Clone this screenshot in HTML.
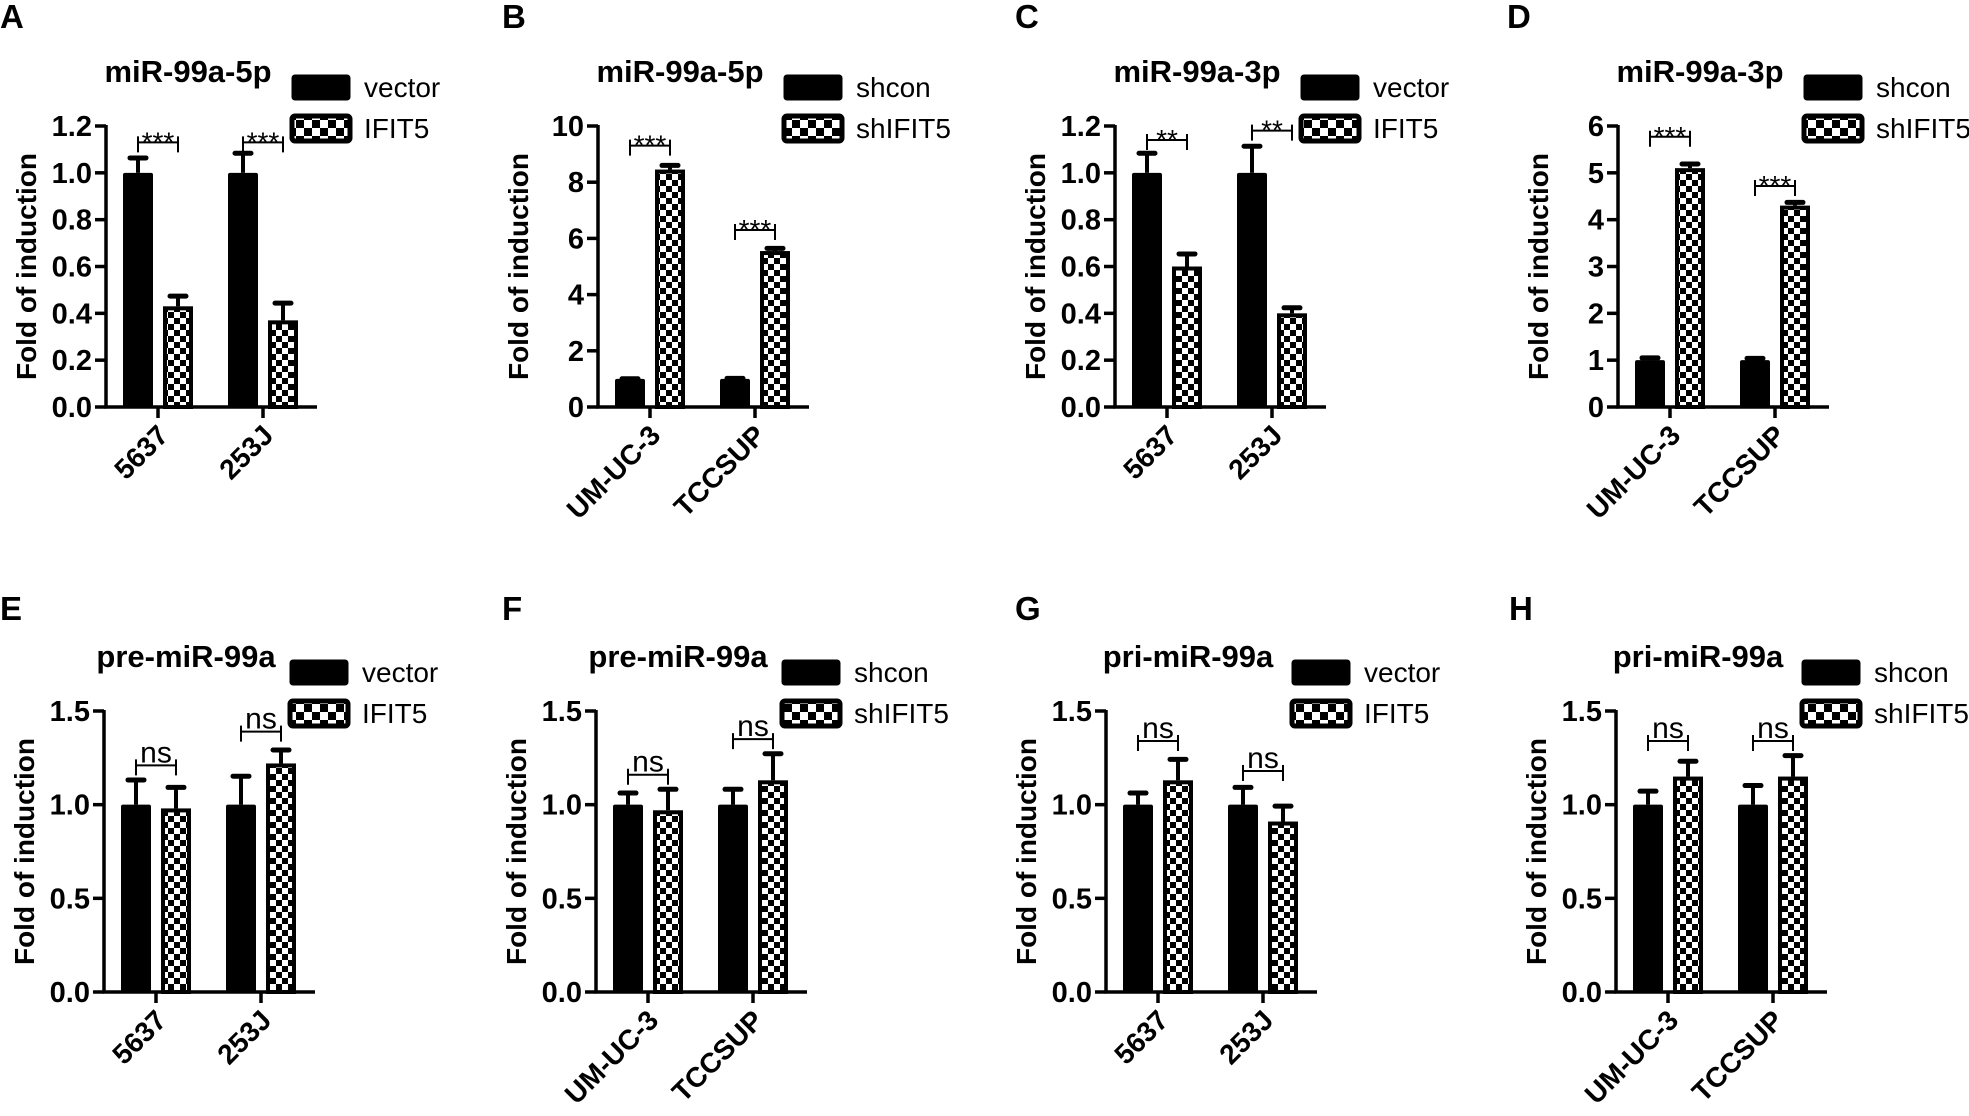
<!DOCTYPE html>
<html><head><meta charset="utf-8"><style>
html,body{margin:0;padding:0;background:#fff;}
svg{display:block;font-family:"Liberation Sans",Arial,sans-serif;}
</style></head><body>
<svg id="fig" width="1969" height="1116" viewBox="0 0 1969 1116" xmlns="http://www.w3.org/2000/svg">
<defs>
<pattern id="chk" patternUnits="userSpaceOnUse" width="12" height="12">
<rect width="12" height="12" fill="#fff"/><rect width="6" height="6" fill="#000"/><rect x="6" y="6" width="6" height="6" fill="#000"/>
</pattern>
<pattern id="chkL" patternUnits="userSpaceOnUse" width="16" height="16">
<rect width="16" height="16" fill="#fff"/><rect width="8" height="8" fill="#000"/><rect x="8" y="8" width="8" height="8" fill="#000"/>
</pattern>
</defs>
</svg>
<script>
// ---- data (one set of small arrays per panel) ----
const letters = ["A","B","C","D","E","F","G","H"];
const titles = ["miR-99a-5p","miR-99a-5p","miR-99a-3p","miR-99a-3p","pre-miR-99a","pre-miR-99a","pri-miR-99a","pri-miR-99a"];
const catsOE = ["5637","253J"];
const catsKD = ["UM-UC-3","TCCSUP"];
const legendOE = ["vector","IFIT5"];
const legendKD = ["shcon","shIFIT5"];
const yTicksA = ["0.0","0.2","0.4","0.6","0.8","1.0","1.2"];
const yTicksB = ["0","2","4","6","8","10"];
const yTicksD = ["0","1","2","3","4","5","6"];
const yTicksE = ["0.0","0.5","1.0","1.5"];
const ctrlA = [1.0,1.0], ctrlErrA = [0.07,0.09], trtA = [0.43,0.37], trtErrA = [0.05,0.08], sigA = ["***","***"], sigYA = [1.13,1.13];
const ctrlB = [1.0,1.0], ctrlErrB = [0.06,0.07], trtB = [8.45,5.55], trtErrB = [0.2,0.15], sigB = ["***","***"], sigYB = [9.3,6.3];
const ctrlC = [1.0,1.0], ctrlErrC = [0.09,0.12], trtC = [0.6,0.4], trtErrC = [0.06,0.03], sigC = ["**","**"], sigYC = [1.14,1.18];
const ctrlD = [1.0,1.0], ctrlErrD = [0.08,0.07], trtD = [5.1,4.3], trtErrD = [0.12,0.1], sigD = ["***","***"], sigYD = [5.77,4.72];
const ctrlE = [1.0,1.0], ctrlErrE = [0.14,0.16], trtE = [0.98,1.22], trtErrE = [0.12,0.08], sigE = ["ns","ns"], sigYE = [1.21,1.39];
const ctrlF = [1.0,1.0], ctrlErrF = [0.07,0.09], trtF = [0.97,1.13], trtErrF = [0.12,0.15], sigF = ["ns","ns"], sigYF = [1.16,1.35];
const ctrlG = [1.0,1.0], ctrlErrG = [0.07,0.1], trtG = [1.13,0.91], trtErrG = [0.12,0.09], sigG = ["ns","ns"], sigYG = [1.34,1.18];
const ctrlH = [1.0,1.0], ctrlErrH = [0.08,0.11], trtH = [1.15,1.15], trtErrH = [0.09,0.12], sigH = ["ns","ns"], sigYH = [1.34,1.34];

// ---- layout ----
const svg = document.getElementById('fig');
const NS = "http://www.w3.org/2000/svg";
function mk(tag, attrs, parent){const e=document.createElementNS(NS,tag);for(const k in attrs)e.setAttribute(k,attrs[k]);(parent||svg).appendChild(e);return e;}

const panels = [
 {ax:106, zero:407, letterX:0, letterY:28, cats:catsOE, leg:legendOE, ticks:yTicksA, c:ctrlA, ce:ctrlErrA, t:trtA, te:trtErrA, s:sigA, sy:sigYA},
 {ax:598, zero:407, letterX:502, letterY:28, cats:catsKD, leg:legendKD, ticks:yTicksB, c:ctrlB, ce:ctrlErrB, t:trtB, te:trtErrB, s:sigB, sy:sigYB},
 {ax:1115, zero:407, letterX:1015, letterY:28, cats:catsOE, leg:legendOE, ticks:yTicksA, c:ctrlC, ce:ctrlErrC, t:trtC, te:trtErrC, s:sigC, sy:sigYC},
 {ax:1618, zero:407, letterX:1507, letterY:28, cats:catsKD, leg:legendKD, ticks:yTicksD, c:ctrlD, ce:ctrlErrD, t:trtD, te:trtErrD, s:sigD, sy:sigYD},
 {ax:104, zero:992, letterX:0, letterY:620, cats:catsOE, leg:legendOE, ticks:yTicksE, c:ctrlE, ce:ctrlErrE, t:trtE, te:trtErrE, s:sigE, sy:sigYE},
 {ax:596, zero:992, letterX:502, letterY:620, cats:catsKD, leg:legendKD, ticks:yTicksE, c:ctrlF, ce:ctrlErrF, t:trtF, te:trtErrF, s:sigF, sy:sigYF},
 {ax:1106, zero:992, letterX:1015, letterY:620, cats:catsOE, leg:legendOE, ticks:yTicksE, c:ctrlG, ce:ctrlErrG, t:trtG, te:trtErrG, s:sigG, sy:sigYG},
 {ax:1616, zero:992, letterX:1509, letterY:620, cats:catsKD, leg:legendKD, ticks:yTicksE, c:ctrlH, ce:ctrlErrH, t:trtH, te:trtErrH, s:sigH, sy:sigYH}
];
const SPAN = 281;

panels.forEach((p, i) => {
  const g = mk('g', {});
  
  
  const ymax = parseFloat(p.ticks[p.ticks.length-1]);
  const y = v => p.zero - v / ymax * SPAN;
  const x = k => p.ax + 52 + k * 105;
  const top = p.zero - SPAN;

  const L = mk('text', {x:p.letterX, y:p.letterY, 'font-size':33, 'font-weight':'bold'}, g);
  L.textContent = letters[i];
  
  

  const T = mk('text', {x:p.ax+82, y:top-44, 'font-size':31, 'font-weight':'bold', 'text-anchor':'middle'}, g);
  T.textContent = titles[i];
  
  

  // legend
  p.leg.forEach((name, j) => {
    const ly = top - 51 + j * 41;
    const sw = mk('rect', {x:p.ax+186, y:ly, width:58, height:25, rx:3, fill: j ? 'url(#chkL)' : '#000', stroke:'#000', 'stroke-width': j ? 5 : 1}, g);
    
    
    const lt = mk('text', {x:p.ax+258, y:ly+22, 'font-size':28}, g);
    lt.textContent = name;
    
    
  });

  // y axis
  const ya = mk('line', {x1:p.ax, y1:top-1, x2:p.ax, y2:p.zero+1.5, stroke:'#000', 'stroke-width':3.5}, g);
  
  
  p.ticks.forEach(tk => {
    const ty = y(parseFloat(tk));
    const tl = mk('line', {x1:p.ax-11, y1:ty, x2:p.ax, y2:ty, stroke:'#000', 'stroke-width':3.5}, g);
    
    
    const tt = mk('text', {x:p.ax-14, y:ty+10, 'font-size':29, 'font-weight':'bold', 'text-anchor':'end'}, g);
    tt.textContent = tk;
    
    
  });
  const yt = mk('text', {x:0, y:0, 'font-size':28, 'font-weight':'bold', 'text-anchor':'middle', transform:`translate(${p.ax-70},${p.zero-SPAN/2}) rotate(-90)`}, g);
  yt.textContent = 'Fold of induction';
  
  

  // bars
  p.cats.forEach((cat, k) => {
    const cx = x(k);
    [[p.c[k], p.ce[k], 0], [p.t[k], p.te[k], 1]].forEach(([v, e, s]) => {
      const bx = cx + (s ? 5 : -35);
      const bt = y(v), et = y(v + e);
      const el = mk('line', {x1:bx+15, y1:bt, x2:bx+15, y2:et, stroke:'#000', 'stroke-width':4}, g);
      
      
      const ec = mk('line', {x1:bx+7, y1:et+1.5, x2:bx+23, y2:et+1.5, stroke:'#000', 'stroke-width':5, 'stroke-linecap':'round'}, g);
      
      
      const r = s
        ? mk('rect', {x:bx+2, y:bt+2, width:26, height:p.zero-bt-2, fill:'url(#chk)', stroke:'#000', 'stroke-width':4}, g)
        : mk('rect', {x:bx, y:bt, width:30, height:p.zero-bt, fill:'#000', rx:2}, g);
      
      
    });
    // significance bracket
    const by = y(p.sy[k]);
    const br = mk('path', {d:`M${cx-20},${by+10} V${by-6} M${cx-20},${by} H${cx+20} M${cx+20},${by+10} V${by-6}`, stroke:'#000', 'stroke-width':2, fill:'none'}, g);
    
    
    const isNs = p.s[k]==='ns';
    const st = mk('text', {x:cx, y: isNs ? by-3 : by+9, 'font-size': isNs ? 30 : 28, 'text-anchor':'middle'}, g);
    st.textContent = p.s[k];
    
    
    // x tick and label
    const xt = mk('line', {x1:cx, y1:p.zero, x2:cx, y2:p.zero+11, stroke:'#000', 'stroke-width':3.5}, g);
    
    
    const xl = mk('text', {x:0, y:0, 'font-size':28, 'font-weight':'bold', 'text-anchor':'end', transform:`translate(${cx+12},${p.zero+30}) rotate(-45)`}, g);
    xl.textContent = cat;
    
    
  });
  const xa = mk('line', {x1:p.ax-1.5, y1:p.zero, x2:p.ax+211, y2:p.zero, stroke:'#000', 'stroke-width':3.5}, g);
  
  
});
</script>
</body></html>
